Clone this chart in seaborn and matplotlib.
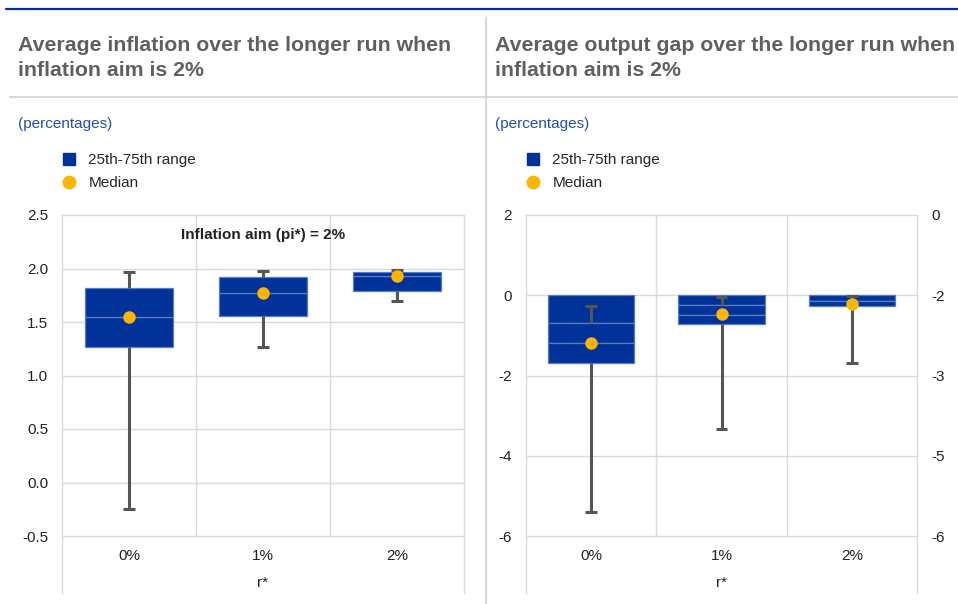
import matplotlib
matplotlib.use("Agg")
import matplotlib.pyplot as plt
from matplotlib.lines import Line2D
import numpy as np
import seaborn as sns

sns.set_theme(style="white")
plt.rcParams['font.family'] = ['Liberation Sans', 'DejaVu Sans']
plt.rcParams['axes.unicode_minus'] = False

# ---- data ----
categories = ["0%", "1%", "2%"]

# average inflation (left panel)
infl_lo = [-0.25, 1.27, 1.70]
infl_q25 = [1.27, 1.56, 1.79]
infl_med = [1.55, 1.77, 1.93]
infl_q75 = [1.82, 1.92, 1.97]
infl_hi = [1.97, 1.98, 1.99]
infl_ticks = [-0.5, 0.0, 0.5, 1.0, 1.5, 2.0, 2.5]
infl_ticklabels = ["-0.5", "0.0", "0.5", "1.0", "1.5", "2.0", "2.5"]

# average output gap (right panel), boxes drawn as stacked pieces from 0
gap_top = [0.0, 0.0, 0.0]
gap_cut1 = [-0.70, -0.25, -0.14]
gap_cut2 = [-1.20, -0.50, -0.14]
gap_bottom = [-1.70, -0.72, -0.27]
gap_med = [-1.20, -0.47, -0.22]
gap_hi = [-0.26, -0.04, -0.01]
gap_lo = [-5.40, -3.33, -1.68]
gap_ticks = [-6, -4, -2, 0, 2]
gap_ticklabels = ["-6", "-4", "-2", "0", "2"]
gap_rticks = [-6, -4.5, -3, -1.5, 0]
gap_rticklabels = ["-6", "-5", "-3", "-2", "0"]

titles = ["Average inflation over the longer run when\ninflation aim is 2%",
          "Average output gap over the longer run when\ninflation aim is 2%"]

BLUE = "#003299"
EDGE = "#5b7cc4"
YELLOW = "#ffb400"
WHISK = "#555555"
GRID = "#d9d9d9"
TXT = "#222222"


def draw_boxes(ax, edges):
    # edges: list of arrays, consecutive pairs are the stacked pieces
    for a, b in zip(edges[:-1], edges[1:]):
        heights = list(np.array(b) - np.array(a))
        sns.barplot(x=categories, y=heights, bottom=a, color=BLUE, saturation=1,
                    width=0.66, errorbar=None, edgecolor=EDGE, linewidth=0.9,
                    zorder=2, ax=ax)


def draw_whiskers(ax, up_from, up_to, low_from, low_to):
    pos = np.arange(len(categories))
    ax.vlines(pos, up_from, up_to, color=WHISK, lw=2.2, zorder=3)
    ax.vlines(pos, low_from, low_to, color=WHISK, lw=2.2, zorder=3)
    ax.hlines(up_to, pos - 0.045, pos + 0.045, color=WHISK, lw=2.2, zorder=3)
    ax.hlines(low_to, pos - 0.045, pos + 0.045, color=WHISK, lw=2.2, zorder=3)


def style_axes(ax, ticks, labels, ylim):
    ax.set_ylim(*ylim)
    ax.set_xlim(-0.5, 2.5)
    for t in ticks:
        ax.axhline(t, color=GRID, lw=1.0, zorder=0, clip_on=False)
    for x in [0.5, 1.5]:
        ax.axvline(x, color=GRID, lw=1.0, zorder=0)
    ext = 57 / 321
    for x in [-0.5, 2.5]:
        ax.plot([x, x], [-ext, 1], color=GRID, lw=1.0, zorder=0,
                transform=ax.get_xaxis_transform(), clip_on=False)
    ax.set_yticks(ticks)
    ax.set_yticklabels(labels)
    ax.set_xticks(range(len(categories)))
    ax.set_xticklabels(categories)
    for s in ax.spines.values():
        s.set_visible(False)
    ax.tick_params(axis="y", length=0, pad=10, labelsize=11, labelcolor=TXT)
    ax.tick_params(axis="x", length=0, pad=9, labelsize=11, labelcolor=TXT)
    ax.set_xlabel("r*", fontsize=11, color=TXT, labelpad=10)
    ax.set_ylabel("")
    ax.grid(False)


fig = plt.figure(figsize=(9.58, 6.04), dpi=100)
W, H = 958, 604

ax1 = fig.add_axes([62 / W, 1 - 536 / H, 402 / W, 321 / H])
ax2 = fig.add_axes([526 / W, 1 - 536 / H, 391 / W, 321 / H])

# left panel
draw_boxes(ax1, [infl_q25, infl_med, infl_q75])
draw_whiskers(ax1, infl_q75, infl_hi, infl_q25, infl_lo)
sns.stripplot(x=categories, y=infl_med, jitter=False, color=YELLOW, size=9,
              linewidth=0, zorder=4, ax=ax1)
style_axes(ax1, infl_ticks, infl_ticklabels, (-0.5, 2.5))
ax1.text(1, 2.31, "Inflation aim (pi*) = 2%", ha="center", va="center",
         fontsize=11, fontweight="bold", color=TXT)

# right panel
draw_boxes(ax2, [gap_top, gap_cut1, gap_cut2, gap_bottom])
draw_whiskers(ax2, gap_cut1, gap_hi, gap_bottom, gap_lo)
sns.stripplot(x=categories, y=gap_med, jitter=False, color=YELLOW, size=9,
              linewidth=0, zorder=4, ax=ax2)
style_axes(ax2, gap_ticks, gap_ticklabels, (-6, 2))
ax2r = ax2.twinx()
ax2r.set_ylim(-6, 0)
ax2r.set_yticks(gap_rticks)
ax2r.set_yticklabels(gap_rticklabels)
ax2r.tick_params(axis="y", length=0, pad=10, labelsize=11, labelcolor=TXT)
for s in ax2r.spines.values():
    s.set_visible(False)
ax2r.grid(False)

# header decorations
fig.add_artist(Line2D([6 / W, 1], [1 - 8.5 / H] * 2, color=BLUE, lw=1.6))
fig.add_artist(Line2D([10 / W, 1], [1 - 97 / H] * 2, color=GRID, lw=1.5))
fig.add_artist(Line2D([486 / W] * 2, [0, 1 - 18 / H], color=GRID, lw=1.5))

handles = [Line2D([], [], marker="s", ls="", color=BLUE, markersize=9),
           Line2D([], [], marker="o", ls="", color=YELLOW, markersize=9)]
labels = ["25th-75th range", "Median"]

for x0, mx, title in [(18, 61, titles[0]), (495, 525, titles[1])]:
    fig.text(x0 / W, 1 - 36 / H, title, ha="left", va="top", fontsize=15.3,
             fontweight="bold", color="#5f5f5f", linespacing=1.4)
    fig.text(x0 / W, 1 - 124 / H, "(percentages)", ha="left", va="center",
             fontsize=11, color="#1f4fb4")
    fig.legend(handles, labels, loc="upper left",
               bbox_to_anchor=(mx / W, 1 - 153 / H), frameon=False,
               fontsize=11, handlelength=1.0, handletextpad=0.8,
               labelspacing=0.6, borderpad=0, borderaxespad=0)

fig.savefig("out.png", dpi=100)
